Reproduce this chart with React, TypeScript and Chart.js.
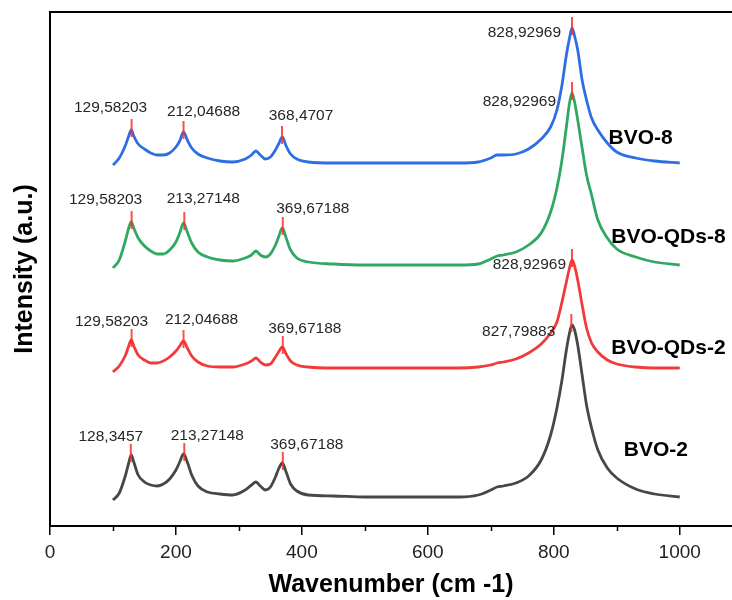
import React, { useEffect, useRef } from "react";
import { Chart, registerables } from "chart.js";

Chart.register(...registerables);

// Wavenumber grid (cm-1) shared by the four spectra
const wavenumbers = [
  100, 110, 120, 125, 129, 133, 140, 150, 160, 170, 180, 190, 200, 206, 212, 218, 225, 235, 250, 270,
  290, 310, 320, 327, 334, 342, 350, 358, 363, 369, 375, 382, 392, 410, 450, 500, 550, 600, 650, 680,
  700, 710, 720, 740, 760, 780, 795, 805, 813, 820, 825, 829, 833, 838, 845, 852, 860, 870, 885, 900,
  930, 960, 1000,
];

// Intensities (a.u., stacked offsets as in the figure)
const bvo8 = [
  361, 368, 381, 390, 396, 390, 382, 377, 373, 371, 371, 373, 379, 385, 394, 386, 378, 372, 368, 365,
  364, 367, 371, 375, 371, 367, 369, 376, 382, 389, 380, 372, 367, 364, 363, 363, 363, 363, 363, 364,
  368, 371, 371, 372, 377, 387, 399, 416, 441, 471, 488, 498, 490, 476, 446, 426, 408, 396, 383, 374,
  368, 365, 363,
];
const bvoQds8 = [
  258, 266, 286, 298, 304, 298, 288, 280, 275, 272, 272, 276, 284, 293, 303, 294, 283, 274, 269, 266,
  265, 268, 271, 275, 271, 269, 272, 281, 289, 298, 288, 276, 268, 264, 262, 261, 261, 261, 261, 262,
  267, 270, 271, 274, 281, 293, 314, 338, 366, 399, 423, 433, 424, 406, 378, 351, 331, 306, 288, 277,
  269, 264, 261,
];
const bvoQds2 = [
  154, 160, 171, 180, 186, 180, 171, 166, 163, 163, 165, 169, 175, 180, 185, 178, 170, 164, 160, 159,
  159, 162, 165, 168, 164, 161, 162, 169, 174, 179, 172, 165, 161, 159, 158, 158, 158, 158, 158, 159,
  161, 163, 164, 167, 173, 182, 193, 204, 224, 244, 258, 266, 260, 246, 221, 198, 183, 174, 166, 162,
  159, 158, 158,
];
const bvo2 = [
  26, 33, 51, 63, 71, 64, 51, 44, 41, 40, 42, 47, 56, 64, 72, 64, 51, 40, 34, 32,
  31, 36, 41, 44, 40, 36, 39, 49, 57, 63, 54, 42, 35, 31, 30, 29, 29, 29, 29, 31,
  36, 39, 40, 43, 50, 66, 91, 118, 146, 176, 193, 201, 196, 181, 151, 121, 98, 76, 58, 48,
  37, 32, 29,
];

const seriesNames = ["BVO-8", "BVO-QDs-8", "BVO-QDs-2", "BVO-2"];
const seriesColors = ["#2d6fe2", "#2fa862", "#f23a3a", "#474747"];

// Peak positions and peak-top intensities
const bvo8PeakX = [129.58203, 212.04688, 368.4707, 828.92969];
const bvo8PeakY = [396, 394, 389, 498];
const bvoQds8PeakX = [129.58203, 213.27148, 369.67188, 828.92969];
const bvoQds8PeakY = [304, 303, 298, 433];
const bvoQds2PeakX = [129.58203, 212.04688, 369.67188, 828.92969];
const bvoQds2PeakY = [186, 185, 179, 266];
const bvo2PeakX = [128.3457, 213.27148, 369.67188, 827.79883];
const bvo2PeakY = [71, 72, 63, 201];

const bvo8PeakLabels = ["129,58203", "212,04688", "368,4707", "828,92969"];
const bvoQds8PeakLabels = ["129,58203", "213,27148", "369,67188", "828,92969"];
const bvoQds2PeakLabels = ["129,58203", "212,04688", "369,67188", "828,92969"];
const bvo2PeakLabels = ["128,3457", "213,27148", "369,67188", "827,79883"];

const xTickValues = [0, 200, 400, 600, 800, 1000];
const xMinorTickValues = [100, 300, 500, 700, 900];

// Label placement (pixel offsets from the peak top) – styling only
const labelOffsets: [number, number, CanvasTextAlign][][] = [
  [[-21, -22, "center"], [20, -20, "center"], [19, -21, "center"], [-11, 5, "right"]],
  [[-26, -22, "center"], [19, -24, "center"], [30, -19, "center"], [-16, 9, "right"]],
  [[-20, -18, "center"], [18, -21, "center"], [22, -18, "center"], [-6, 5, "right"]],
  [[-20, -18, "center"], [23, -18, "center"], [24, -18, "center"], [-16, 7, "right"]],
];
// Series name anchors in data coordinates
const nameAnchorX = [938, 982, 982, 962];
const nameAnchorY = [388, 289, 178, 76];

const FONT = '"Liberation Sans", Arial, sans-serif';

export default function App() {
  const ref = useRef<HTMLCanvasElement | null>(null);

  useEffect(() => {
    if (!ref.current) return;
    const spectra = [bvo8, bvoQds8, bvoQds2, bvo2];
    const peaksX = [bvo8PeakX, bvoQds8PeakX, bvoQds2PeakX, bvo2PeakX];
    const peaksY = [bvo8PeakY, bvoQds8PeakY, bvoQds2PeakY, bvo2PeakY];
    const peakLabels = [bvo8PeakLabels, bvoQds8PeakLabels, bvoQds2PeakLabels, bvo2PeakLabels];

    const lineSets = spectra.map((s, i) => ({
      type: "line" as const,
      label: seriesNames[i],
      data: wavenumbers.map((x, j) => ({ x, y: s[j] })),
      borderColor: seriesColors[i],
      borderWidth: 2.8,
      pointRadius: 0,
      cubicInterpolationMode: "monotone" as const,
      fill: false,
      order: 2,
    }));
    const markerSets = peaksX.map((px, i) => ({
      type: "line" as const,
      label: seriesNames[i] + " peaks",
      data: px.map((x, j) => ({ x, y: peaksY[i][j] + 2 })),
      showLine: false,
      pointStyle: "line" as const,
      rotation: 90,
      pointRadius: 9,
      pointBorderWidth: 2,
      pointBorderColor: "rgba(255,45,45,0.85)",
      pointBackgroundColor: "rgba(255,45,45,0.85)",
      borderColor: "rgba(255,45,45,0.85)",
      clip: false,
      order: 1,
    }));

    const annotate = {
      id: "annotate",
      afterDatasetsDraw(chart: any) {
        const ctx = chart.ctx;
        const xs = chart.scales.x;
        const ys = chart.scales.y;
        ctx.save();
        ctx.textBaseline = "middle";
        ctx.fillStyle = "#262626";
        ctx.font = "15.5px " + FONT;
        peaksX.forEach((px, i) => {
          px.forEach((x, j) => {
            const [dx, dy, align] = labelOffsets[i][j];
            ctx.textAlign = align;
            ctx.fillText(peakLabels[i][j], xs.getPixelForValue(x) + dx, ys.getPixelForValue(peaksY[i][j]) + dy);
          });
        });
        ctx.fillStyle = "#000";
        ctx.font = "bold 21px " + FONT;
        ctx.textAlign = "center";
        seriesNames.forEach((n, i) => {
          ctx.fillText(n, xs.getPixelForValue(nameAnchorX[i]), ys.getPixelForValue(nameAnchorY[i]));
        });
        // minor ticks
        ctx.strokeStyle = "#000";
        ctx.lineWidth = 1.5;
        const b = chart.chartArea.bottom;
        xMinorTickValues.forEach((v) => {
          const p = Math.round(xs.getPixelForValue(v)) + 0.5;
          ctx.beginPath();
          ctx.moveTo(p, b);
          ctx.lineTo(p, b + 5);
          ctx.stroke();
        });
        ctx.restore();
      },
    };

    const noPad = (s: any) => {
      s.paddingLeft = 0;
      s.paddingRight = 0;
      s.paddingTop = 0;
      s.paddingBottom = 0;
    };

    const chart = new Chart(ref.current, {
      type: "line",
      data: { datasets: [...lineSets, ...markerSets] as any },
      options: {
        animation: false,
        responsive: false,
        devicePixelRatio: 1,
        layout: { padding: 0, autoPadding: false },
        plugins: { legend: { display: false }, tooltip: { enabled: false } },
        scales: {
          x: {
            type: "linear",
            position: "bottom",
            min: 0,
            max: 1083,
            afterFit: (s: any) => {
              s.height = 74;
              noPad(s);
            },
            afterBuildTicks: (s: any) => {
              s.ticks = xTickValues.map((v) => ({ value: v }));
            },
            ticks: {
              color: "#222",
              font: { family: FONT, size: 19 },
              padding: 6,
              maxRotation: 0,
              autoSkip: false,
              callback: (v: any) => String(v),
            },
            grid: {
              display: true,
              drawOnChartArea: false,
              drawTicks: true,
              tickLength: 9,
              color: "#000",
              lineWidth: 1.5,
            },
            border: { display: true, color: "#000", width: 2 },
            title: {
              display: true,
              text: "Wavenumber (cm -1)",
              color: "#000",
              font: { family: FONT, size: 25, weight: "bold" },
              padding: { top: 2, bottom: 0 },
            },
          },
          x2: {
            type: "linear",
            position: "top",
            min: 0,
            max: 1083,
            afterFit: (s: any) => {
              s.height = 12;
              noPad(s);
            },
            ticks: { display: false },
            grid: { display: false, drawTicks: false },
            border: { display: true, color: "#000", width: 2 },
          },
          y: {
            type: "linear",
            min: 0,
            max: 514,
            afterFit: (s: any) => {
              s.width = 50;
              noPad(s);
            },
            ticks: { display: false },
            grid: { display: false, drawTicks: false },
            border: { display: true, color: "#000", width: 2 },
            title: {
              display: true,
              text: "Intensity (a.u.)",
              color: "#000",
              font: { family: FONT, size: 25, weight: "bold" },
              padding: { top: 10, bottom: 0 },
            },
          },
        },
      },
      plugins: [annotate],
    } as any);
    return () => chart.destroy();
  }, []);

  return (
    <div style={{ position: "absolute", left: 0, top: 0, width: 732, height: 600, overflow: "hidden", background: "#fff" }}>
      <canvas ref={ref} width={732} height={600} style={{ display: "block" }} />
    </div>
  );
}
